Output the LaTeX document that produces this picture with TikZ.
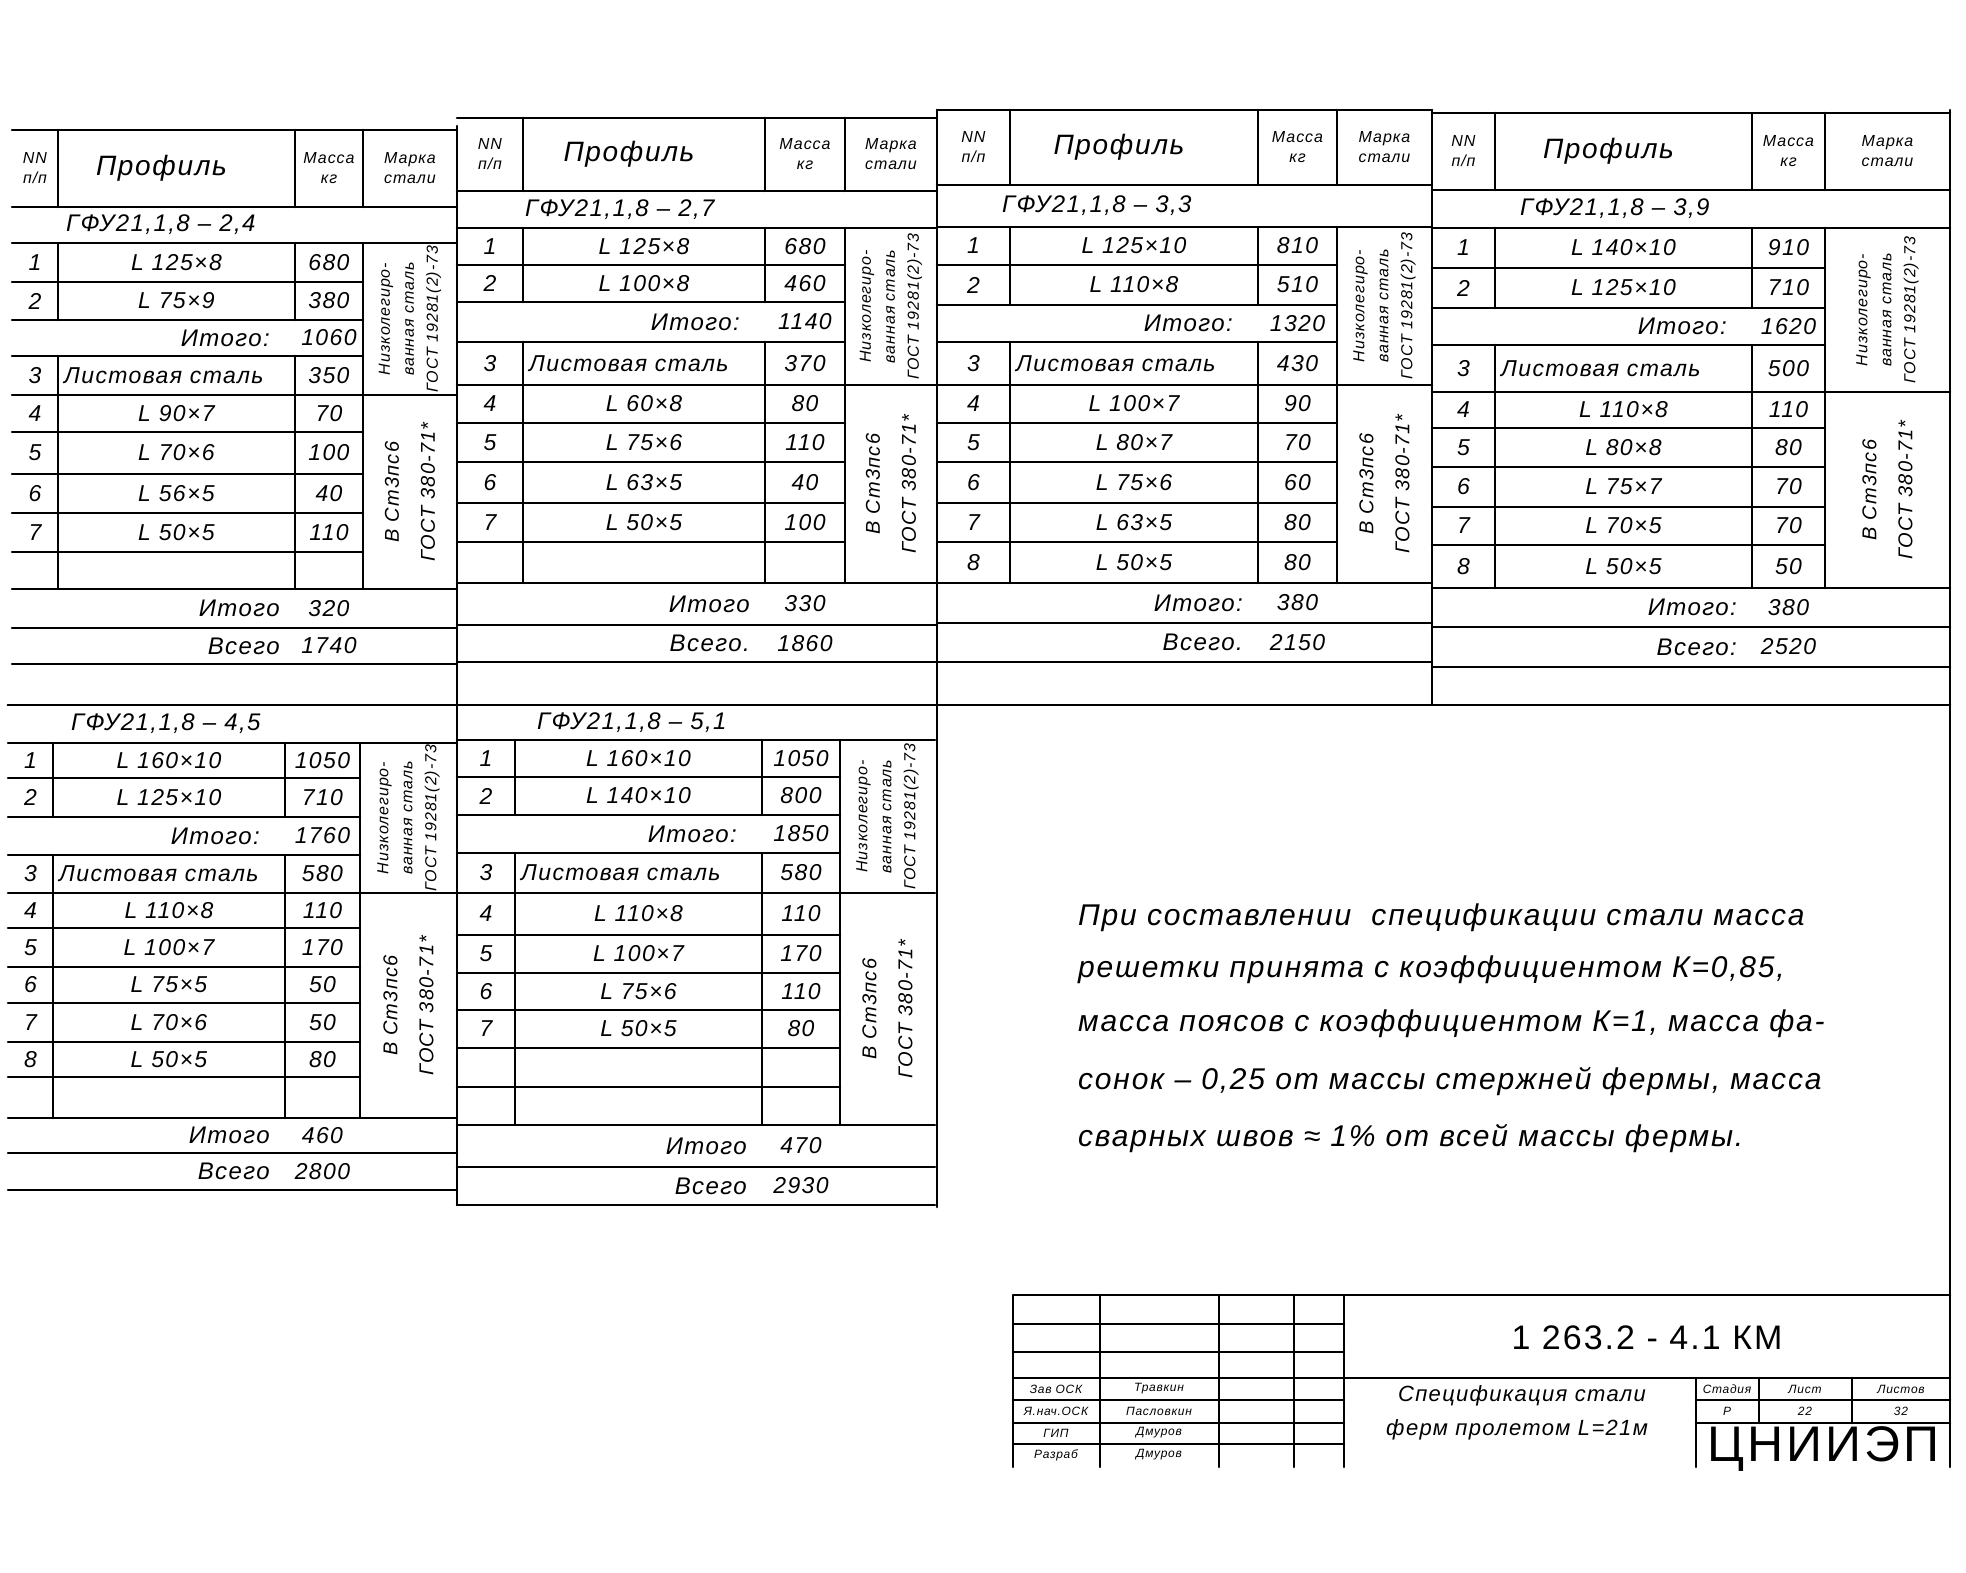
\documentclass[tikz,border=0pt]{standalone}
\usepackage{fontspec}
\setmainfont{Liberation Sans}[LetterSpace=6]
\tikzset{
  ln/.style={line width=2.6pt, line cap=round},
  t/.style={font=\fontsize{23}{27}\selectfont\itshape, inner sep=0pt},
  lb/.style={font=\fontsize{24}{28}\selectfont\itshape, inner sep=0pt},
  sub/.style={font=\fontsize{24}{28}\selectfont\itshape, inner sep=0pt, anchor=west},
  hs/.style={font=\fontsize{16}{20}\selectfont\itshape, inner sep=0pt, align=center},
  hb/.style={font=\fontsize{28}{32}\selectfont\itshape, inner sep=0pt},
  mk/.style={rotate=90, font=\fontsize{16}{24}\selectfont\itshape, inner sep=0pt, align=center},
  mkb/.style={rotate=90, font=\fontsize{20}{36}\selectfont\itshape, inner sep=0pt, align=center},
  note/.style={font=\fontsize{30}{34}\selectfont\itshape, inner sep=0pt, anchor=base west},
  tb/.style={font=\fontsize{12}{14}\selectfont\itshape, inner sep=0pt},
}
% row of a table: #1 id, #2 top y, #3 bottom y, #4 number, #5 profile, #6 mass
\newcommand\rowt[6]{%
  \node[t] (\blk-n#1) at ({(\xa+\xb)/2},{(#2+#3)/2}) {#4};
  \node[t] (\blk-p#1) at ({(\xb+\xc)/2},{(#2+#3)/2}) {#5};
  \node[t] (\blk-m#1) at ({(\xc+\xd)/2},{(#2+#3)/2}) {#6};}
% sheet row: #1 top, #2 bottom, #3 mass
\newcommand\sheetrow[3]{%
  \node[t] (\blk-n3) at ({(\xa+\xb)/2},{(#1+#2)/2}) {3};
  \node[t,anchor=west] (\blk-p3) at ({\xb+6},{(#1+#2)/2}) {Листовая сталь};
  \node[t] (\blk-m3) at ({(\xc+\xd)/2},{(#1+#2)/2}) {#3};}
% middle total: #1 top, #2 bottom, #3 value
\newcommand\midtot[3]{%
  \node[lb,anchor=east] (\blk-it1) at ({\xc-25},{(#1+#2)/2}) {Итого:};
  \node[t] (\blk-iv1) at ({(\xc+\xd)/2},{(#1+#2)/2}) {#3};}
% bottom totals: #1 label1 #2 value1 #3 label2 #4 value2
\newcommand\bottot[4]{%
  \node[lb,anchor=east] (\blk-it2) at ({\xc-15},{(\yRlast+\yItg)/2}) {#1};
  \node[t] (\blk-iv2) at ({(\xc+\xd)/2},{(\yRlast+\yItg)/2}) {#2};
  \node[lb,anchor=east] (\blk-vs) at ({\xc-15},{(\yItg+\yVs)/2}) {#3};
  \node[t] (\blk-vv) at ({(\xc+\xd)/2},{(\yItg+\yVs)/2}) {#4};}
\newcommand\upgrid{%
  \draw[ln] (\xa,\yTop)--(\xe,\yTop) (\xa,\yHdr)--(\xe,\yHdr) (\xa,\ySub)--(\xe,\ySub)
    (\xa,\yRa)--(\xd,\yRa) (\xa,\yRb)--(\xd,\yRb) (\xa,\yIt)--(\xd,\yIt)
    (\xa,\yRc)--(\xe,\yRc) (\xa,\yRd)--(\xd,\yRd) (\xa,\yRe)--(\xd,\yRe)
    (\xa,\yRf)--(\xd,\yRf) (\xa,\yRg)--(\xd,\yRg) (\xa,\yRlast)--(\xe,\yRlast)
    (\xa,\yItg)--(\xe,\yItg) (\xa,\yVs)--(\xe,\yVs)
    (\xb,\yTop)--(\xb,\yHdr) (\xc,\yTop)--(\xc,\yHdr) (\xd,\yTop)--(\xd,\yHdr)
    (\xb,\ySub)--(\xb,\yRb) (\xc,\ySub)--(\xc,\yRb)
    (\xb,\yIt)--(\xb,\yRlast) (\xc,\yIt)--(\xc,\yRlast) (\xd,\ySub)--(\xd,\yRlast);
  \node[hs] (\blk-h1) at ({(\xa+\xb)/2},{(\yTop+\yHdr)/2}) {NN\\п/п};
  \node[hb] (\blk-h2) at ({(\xb+\xc)/2-15},{(\yTop+\yHdr)/2}) {Профиль};
  \node[hs] (\blk-h3) at ({(\xc+\xd)/2},{(\yTop+\yHdr)/2}) {Масса\\кг};
  \node[hs] (\blk-h4) at ({(\xd+\xe)/2},{(\yTop+\yHdr)/2}) {Марка\\стали};
  \node[mk] (\blk-k1) at ({(\xd+\xe)/2},{(\ySub+\yRc)/2}) {Низколегиро-\\ванная сталь\\ГОСТ 19281(2)-73};
  \node[mkb] (\blk-k2) at ({(\xd+\xe)/2},{(\yRc+\yRlast)/2}) {В Ст3пс6\\ГОСТ 380-71*};}
\newcommand\lowgrid{%
  \draw[ln] (\xa,\yTop)--(\xe,\yTop) (\xa,\ySub)--(\xe,\ySub)
    (\xa,\yRa)--(\xd,\yRa) (\xa,\yRb)--(\xd,\yRb) (\xa,\yIt)--(\xd,\yIt)
    (\xa,\yRc)--(\xe,\yRc) (\xa,\yRd)--(\xd,\yRd) (\xa,\yRe)--(\xd,\yRe)
    (\xa,\yRf)--(\xd,\yRf) (\xa,\yRg)--(\xd,\yRg) (\xa,\yRh)--(\xd,\yRh)
    (\xa,\yRlast)--(\xe,\yRlast)
    (\xa,\yItg)--(\xe,\yItg) (\xa,\yVs)--(\xe,\yVs)
    (\xb,\ySub)--(\xb,\yRb) (\xc,\ySub)--(\xc,\yRb)
    (\xb,\yIt)--(\xb,\yRlast) (\xc,\yIt)--(\xc,\yRlast) (\xd,\ySub)--(\xd,\yRlast);
  \node[mk] (\blk-k1) at ({(\xd+\xe)/2},{(\ySub+\yRc)/2}) {Низколегиро-\\ванная сталь\\ГОСТ 19281(2)-73};
  \node[mkb] (\blk-k2) at ({(\xd+\xe)/2},{(\yRc+\yRlast)/2}) {В Ст3пс6\\ГОСТ 380-71*};}
\begin{document}
\begin{tikzpicture}[x=1pt,y=-1pt]
\useasboundingbox (0,0) rectangle (1966,1573);
\fill[white] (0,0) rectangle (1966,1573);

% ---------- block 1 ----------
\def\blk{b1}
\def\xa{12}\def\xb{58}\def\xc{295}\def\xd{363}\def\xe{457}
\def\yTop{130}\def\yHdr{207}\def\ySub{243}\def\yRa{282}\def\yRb{320}\def\yIt{356}
\def\yRc{395}\def\yRd{432}\def\yRe{474}\def\yRf{513}\def\yRg{552}\def\yRlast{589}
\def\yItg{628}\def\yVs{664}
\upgrid
\node[sub] (b1-s) at ({\xb+8},{(\yHdr+\ySub)/2}) {ГФУ21,1,8 – 2,4};
\rowt{1}{\ySub}{\yRa}{1}{L 125×8}{680}
\rowt{2}{\yRa}{\yRb}{2}{L 75×9}{380}
\midtot{\yRb}{\yIt}{1060}
\sheetrow{\yIt}{\yRc}{350}
\rowt{4}{\yRc}{\yRd}{4}{L 90×7}{70}
\rowt{5}{\yRd}{\yRe}{5}{L 70×6}{100}
\rowt{6}{\yRe}{\yRf}{6}{L 56×5}{40}
\rowt{7}{\yRf}{\yRg}{7}{L 50×5}{110}
\bottot{Итого}{320}{Всего}{1740}

% ---------- block 2 ----------
\def\blk{b2}
\def\xa{457}\def\xb{523}\def\xc{765}\def\xd{845}\def\xe{937}
\def\yTop{118}\def\yHdr{191}\def\ySub{228}\def\yRa{265}\def\yRb{302}\def\yIt{342}
\def\yRc{385}\def\yRd{423}\def\yRe{462}\def\yRf{503}\def\yRg{542}\def\yRlast{583}
\def\yItg{625}\def\yVs{662}
\upgrid
\node[sub] (b2-s) at ({\xb+2},{(\yHdr+\ySub)/2}) {ГФУ21,1,8 – 2,7};
\rowt{1}{\ySub}{\yRa}{1}{L 125×8}{680}
\rowt{2}{\yRa}{\yRb}{2}{L 100×8}{460}
\midtot{\yRb}{\yIt}{1140}
\sheetrow{\yIt}{\yRc}{370}
\rowt{4}{\yRc}{\yRd}{4}{L 60×8}{80}
\rowt{5}{\yRd}{\yRe}{5}{L 75×6}{110}
\rowt{6}{\yRe}{\yRf}{6}{L 63×5}{40}
\rowt{7}{\yRf}{\yRg}{7}{L 50×5}{100}
\bottot{Итого}{330}{Всего.}{1860}

% ---------- block 3 ----------
\def\blk{b3}
\def\xa{937}\def\xb{1010}\def\xc{1258}\def\xd{1337}\def\xe{1432}
\def\yTop{110}\def\yHdr{185}\def\ySub{227}\def\yRa{265}\def\yRb{305}\def\yIt{342}
\def\yRc{385}\def\yRd{423}\def\yRe{462}\def\yRf{503}\def\yRg{542}\def\yRlast{583}
\def\yItg{623}\def\yVs{662}
\upgrid
\node[sub] (b3-s) at ({\xb-8},{(\yHdr+\ySub)/2}) {ГФУ21,1,8 – 3,3};
\rowt{1}{\ySub}{\yRa}{1}{L 125×10}{810}
\rowt{2}{\yRa}{\yRb}{2}{L 110×8}{510}
\midtot{\yRb}{\yIt}{1320}
\sheetrow{\yIt}{\yRc}{430}
\rowt{4}{\yRc}{\yRd}{4}{L 100×7}{90}
\rowt{5}{\yRd}{\yRe}{5}{L 80×7}{70}
\rowt{6}{\yRe}{\yRf}{6}{L 75×6}{60}
\rowt{7}{\yRf}{\yRg}{7}{L 63×5}{80}
\rowt{8}{\yRg}{\yRlast}{8}{L 50×5}{80}
\bottot{Итого:}{380}{Всего.}{2150}

% ---------- block 4 ----------
\def\blk{b4}
\def\xa{1432}\def\xb{1495}\def\xc{1752}\def\xd{1825}\def\xe{1950}
\def\yTop{113}\def\yHdr{190}\def\ySub{228}\def\yRa{268}\def\yRb{308}\def\yIt{345}
\def\yRc{392}\def\yRd{428}\def\yRe{467}\def\yRf{507}\def\yRg{545}\def\yRlast{588}
\def\yItg{627}\def\yVs{667}
\upgrid
\node[sub] (b4-s) at ({\xb+25},{(\yHdr+\ySub)/2}) {ГФУ21,1,8 – 3,9};
\rowt{1}{\ySub}{\yRa}{1}{L 140×10}{910}
\rowt{2}{\yRa}{\yRb}{2}{L 125×10}{710}
\midtot{\yRb}{\yIt}{1620}
\sheetrow{\yIt}{\yRc}{500}
\rowt{4}{\yRc}{\yRd}{4}{L 110×8}{110}
\rowt{5}{\yRd}{\yRe}{5}{L 80×8}{80}
\rowt{6}{\yRe}{\yRf}{6}{L 75×7}{70}
\rowt{7}{\yRf}{\yRg}{7}{L 70×5}{70}
\rowt{8}{\yRg}{\yRlast}{8}{L 50×5}{50}
\bottot{Итого:}{380}{Всего:}{2520}

% ---------- lower block 1 ----------
\def\blk{c1}
\def\xa{8}\def\xb{53}\def\xc{285}\def\xd{360}\def\xe{457}
\def\yTop{705}\def\ySub{743}\def\yRa{778}\def\yRb{817}\def\yIt{855}
\def\yRc{893}\def\yRd{928}\def\yRe{967}\def\yRf{1003}\def\yRg{1042}\def\yRh{1077}\def\yRlast{1118}
\def\yItg{1153}\def\yVs{1190}
\lowgrid
\node[sub] (c1-s) at ({\xb+18},{(\yTop+\ySub)/2}) {ГФУ21,1,8 – 4,5};
\rowt{1}{\ySub}{\yRa}{1}{L 160×10}{1050}
\rowt{2}{\yRa}{\yRb}{2}{L 125×10}{710}
\midtot{\yRb}{\yIt}{1760}
\sheetrow{\yIt}{\yRc}{580}
\rowt{4}{\yRc}{\yRd}{4}{L 110×8}{110}
\rowt{5}{\yRd}{\yRe}{5}{L 100×7}{170}
\rowt{6}{\yRe}{\yRf}{6}{L 75×5}{50}
\rowt{7}{\yRf}{\yRg}{7}{L 70×6}{50}
\rowt{8}{\yRg}{\yRh}{8}{L 50×5}{80}
\bottot{Итого}{460}{Всего}{2800}

% ---------- lower block 2 ----------
\def\blk{c2}
\def\xa{457}\def\xb{515}\def\xc{762}\def\xd{840}\def\xe{935}
\def\yTop{705}\def\ySub{740}\def\yRa{777}\def\yRb{815}\def\yIt{853}
\def\yRc{893}\def\yRd{935}\def\yRe{973}\def\yRf{1010}\def\yRg{1048}\def\yRh{1087}\def\yRlast{1125}
\def\yItg{1167}\def\yVs{1205}
\lowgrid
\node[sub] (c2-s) at ({\xb+22},{(\yTop+\ySub)/2}) {ГФУ21,1,8 – 5,1};
\rowt{1}{\ySub}{\yRa}{1}{L 160×10}{1050}
\rowt{2}{\yRa}{\yRb}{2}{L 140×10}{800}
\midtot{\yRb}{\yIt}{1850}
\sheetrow{\yIt}{\yRc}{580}
\rowt{4}{\yRc}{\yRd}{4}{L 110×8}{110}
\rowt{5}{\yRd}{\yRe}{5}{L 100×7}{170}
\rowt{6}{\yRe}{\yRf}{6}{L 75×6}{110}
\rowt{7}{\yRf}{\yRg}{7}{L 50×5}{80}
\bottot{Итого}{470}{Всего}{2930}

% ---------- frame lines ----------
\draw[ln] (457,126)--(457,1205) (937,110)--(937,1207)
  (1432,110)--(1432,705) (1950,110)--(1950,1467)
  (8,705)--(1950,705);

% ---------- note ----------
\node[note] (n1) at (1078,925) {При составлении \ спецификации стали масса};
\node[note] (n2) at (1078,977) {решетки принята с коэффициентом К=0,85,};
\node[note] (n3) at (1078,1031) {масса поясов с коэффициентом К=1, масса фа-};
\node[note] (n4) at (1078,1089) {сонок – 0,25 от массы стержней фермы, масса};
\node[note] (n5) at (1078,1146) {сварных швов ≈ 1\% от всей массы фермы.};

% ---------- title block ----------
\draw[ln] (1013,1295)--(1950,1295)
  (1013,1324)--(1344,1324) (1013,1352)--(1344,1352) (1013,1378)--(1950,1378)
  (1013,1400)--(1344,1400) (1013,1423)--(1344,1423) (1013,1444)--(1344,1444)
  (1013,1295)--(1013,1467) (1100,1295)--(1100,1467) (1219,1295)--(1219,1467)
  (1294,1295)--(1294,1467) (1344,1295)--(1344,1467)
  (1696,1378)--(1696,1467) (1759,1378)--(1759,1423) (1852,1378)--(1852,1423)
  (1696,1400)--(1950,1400) (1696,1423)--(1950,1423);
\node[font=\fontsize{34}{40}\selectfont, inner sep=0pt] (tnum) at (1647,1338) {1 263.2 - 4.1 КМ};
\node[font=\fontsize{22}{26}\selectfont\itshape, inner sep=0pt] (tn1) at (1522,1396) {Спецификация стали};
\node[font=\fontsize{22}{26}\selectfont\itshape, inner sep=0pt] (tn2) at (1517,1430) {ферм пролетом L=21м};
\node[tb] (st1) at (1727,1389) {Стадия};
\node[tb] (st2) at (1805,1389) {Лист};
\node[tb] (st3) at (1901,1389) {Листов};
\node[tb] (sv1) at (1727,1411) {Р};
\node[tb] (sv2) at (1805,1411) {22};
\node[tb] (sv3) at (1901,1411) {32};
\node[font=\fontsize{50}{56}\selectfont, inner sep=0pt] (org) at (1823,1449) {ЦНИИЭП};
\node[tb] (p1) at (1056,1389) {Зав ОСК};
\node[tb] (p2) at (1056,1411) {Я.нач.ОСК};
\node[tb] (p3) at (1056,1433) {ГИП};
\node[tb] (p4) at (1056,1455) {Разраб};
\node[tb] (q1) at (1159,1389) {Травкин};
\node[tb] (q2) at (1159,1411) {Пасловкин};
\node[tb] (q3) at (1159,1433) {Дмуров};
\node[tb] (q4) at (1159,1455) {Дмуров};
\end{tikzpicture}
\end{document}
